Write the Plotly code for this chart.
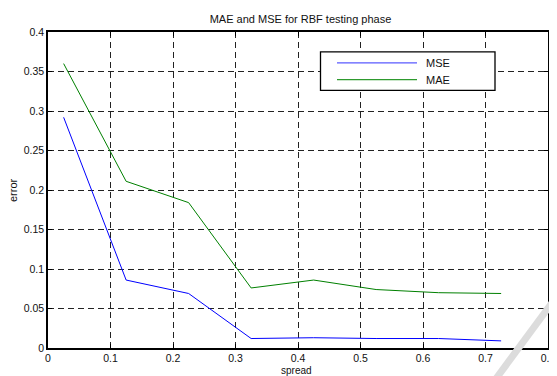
import plotly.graph_objects as go

spread = [0.025, 0.125, 0.225, 0.325, 0.425, 0.525, 0.625, 0.725]
mse = [0.292, 0.086, 0.069, 0.012, 0.013, 0.012, 0.012, 0.009]
mae = [0.360, 0.211, 0.184, 0.076, 0.086, 0.074, 0.070, 0.069]
series_names = ["MSE", "MAE"]
x_ticks = [0, 0.1, 0.2, 0.3, 0.4, 0.5, 0.6, 0.7, 0.8]
y_ticks = [0, 0.05, 0.1, 0.15, 0.2, 0.25, 0.3, 0.35, 0.4]

FONT = "Liberation Sans, Arial, sans-serif"
BLUE = "#0000ff"
GREEN = "#008000"
TXT = "#111"

fig = go.Figure()
fig.add_trace(go.Scatter(x=spread, y=mse, mode="lines", name=series_names[0],
                         line=dict(color=BLUE, width=1), showlegend=False))
fig.add_trace(go.Scatter(x=spread, y=mae, mode="lines", name=series_names[1],
                         line=dict(color=GREEN, width=1), showlegend=False))

axis_common = dict(
    automargin=False,
    showline=True, linecolor="black", linewidth=1.5, mirror="ticks",
    ticks="inside", ticklen=4, tickcolor="black",
    showgrid=True, gridcolor="#222", gridwidth=1, griddash="6px,4px",
    zeroline=False, tickfont=dict(family=FONT, size=10.5, color=TXT),
)

fig.update_xaxes(range=[0, 0.8], tickvals=x_ticks, ticktext=[f"{v:g}" for v in x_ticks],
                 **axis_common)
fig.update_yaxes(range=[0, 0.4], tickvals=y_ticks, ticktext=[f"{v:g}" for v in y_ticks],
                 **axis_common)

# axis titles placed as annotations for exact positioning
fig.add_annotation(text="spread", xref="paper", yref="paper", x=0.497, y=-0.072,
                   xanchor="center", yanchor="middle", showarrow=False,
                   font=dict(family=FONT, size=10, color=TXT))
fig.add_annotation(text="error", xref="paper", yref="paper", x=-0.07, y=0.5, textangle=-90,
                   xanchor="center", yanchor="middle", showarrow=False,
                   font=dict(family=FONT, size=11, color=TXT))

# manual legend box (MATLAB style)
fig.add_shape(type="rect", xref="paper", yref="paper", x0=0.545, x1=0.894, y0=0.815, y1=0.937,
              line=dict(color="black", width=1.3), fillcolor="white", layer="above")
legend_rows = [(0.902, "#5a5aff"), (0.849, "#2e9a2e")]
for name, (yy, col) in zip(series_names, legend_rows):
    fig.add_shape(type="line", xref="paper", yref="paper", x0=0.578, x1=0.738, y0=yy, y1=yy,
                  line=dict(color=col, width=1.2), layer="above")
    fig.add_annotation(text=name, xref="paper", yref="paper", x=0.752, y=yy, xanchor="left",
                       yanchor="middle", showarrow=False, font=dict(family=FONT, size=11, color=TXT))

# scanner watermark stroke at bottom right
fig.add_shape(type="line", xref="paper", yref="paper", x0=1.03, y0=0.19, x1=0.89, y1=-0.11,
              line=dict(color="#dcdcdc", width=7), layer="above")

# the page body adds an 8px offset, so the figure is sized to fill the rest of the window
fig.update_layout(
    width=549, height=368,
    margin=dict(l=40, r=9, t=24, b=28),
    paper_bgcolor="white", plot_bgcolor="white",
    title=dict(text="MAE and MSE for RBF testing phase", xref="paper", x=0.505, xanchor="center",
               y=0.97, yanchor="middle", font=dict(family=FONT, size=11, color=TXT)),
    showlegend=False,
)

fig.write_html("out.html")
